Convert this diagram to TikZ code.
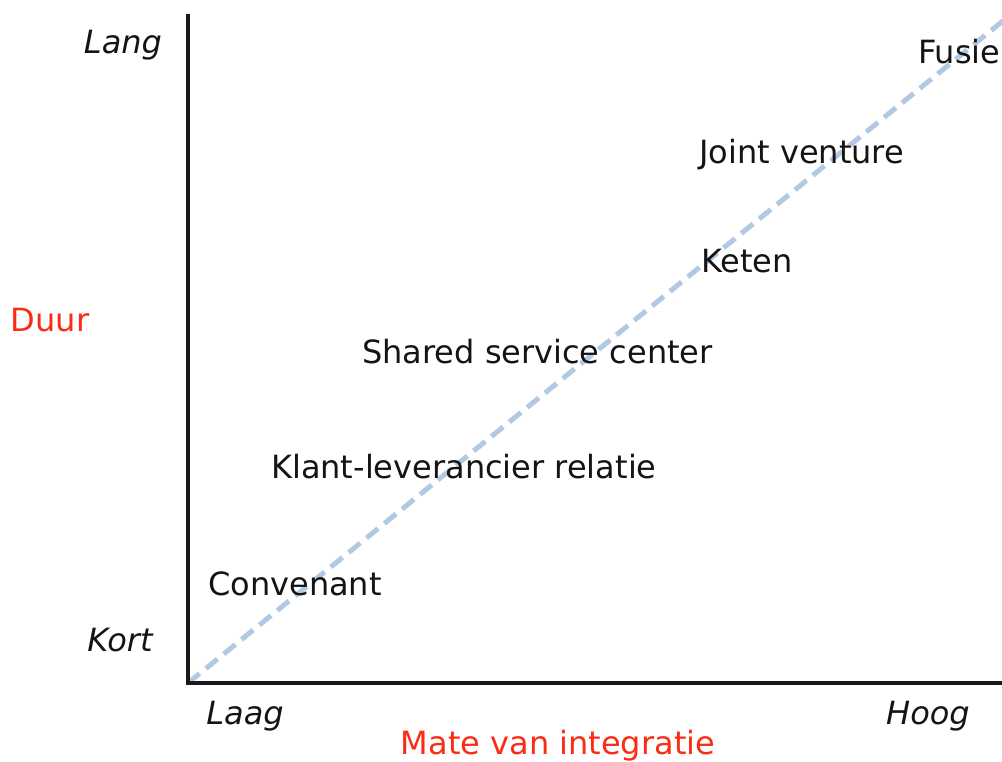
\documentclass[tikz,border=0pt]{standalone}
\usepackage{fontspec}
\setmainfont{DejaVu Sans}
\begin{document}
\begin{tikzpicture}[x=1pt,y=-1pt,
  lbl/.style={anchor=west,inner sep=0pt,font=\fontsize{32}{37}\selectfont,text=black!92},
  axl/.style={inner sep=0pt,font=\fontsize{32}{37}\selectfont\itshape,text=black!92},
  ttl/.style={inner sep=0pt,font=\fontsize{32}{37}\selectfont,text=titred},
  axis/.style={line width=4.2pt,black!90},
  diag/.style={line width=5pt,diagblue,dash pattern=on 15pt off 8pt}]
\definecolor{titred}{RGB}{250,45,20}
\definecolor{diagblue}{RGB}{178,201,228}
\useasboundingbox (0,0) rectangle (1002,762);
\fill[white] (0,0) rectangle (1002,762);
\coordinate (O) at (188,683);
\coordinate (T) at (188,14);
\coordinate (R) at (1004,683);
\coordinate (E) at (1004,20);
\draw[diag] (O) -- (E);
\draw[axis] (T) -- (O) -- (R);
\node[axl] (lang) at (123,45) {Lang};
\node[axl] (kort) at (120,640) {Kort};
\node[ttl] (duur) at (50,320) {Duur};
\node[axl] (laag) at (245,716) {Laag};
\node[axl] (hoog) at (928,716) {Hoog};
\node[ttl] (mate) at (558,746) {Mate van integratie};
\node[lbl] (fusie) at (918,52) {Fusie};
\node[lbl] (jv) at (699,155) {Joint venture};
\node[lbl] (keten) at (701,261) {Keten};
\node[lbl] (ssc) at (362,352) {Shared service center};
\node[lbl] (klr) at (271,467) {Klant-leverancier relatie};
\node[lbl] (conv) at (208,584) {Convenant};
\end{tikzpicture}
\end{document}
